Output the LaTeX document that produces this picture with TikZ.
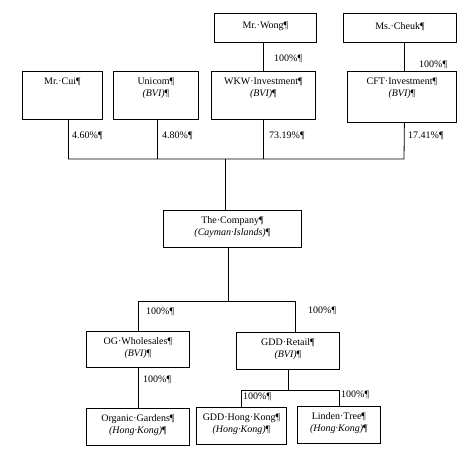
\documentclass[tikz,border=0pt]{standalone}
\usepackage{fontspec}
\setmainfont{Liberation Serif}
\usetikzlibrary{calc}
\begin{document}
\begin{tikzpicture}[x=1pt,y=-1pt,
  box/.style={draw, line width=0.8pt, rectangle, inner sep=0pt, anchor=north west},
  txt/.style={font=\fontsize{10}{12}\selectfont, align=center, inner sep=0pt, anchor=north},
  pct/.style={font=\fontsize{10}{12}\selectfont, inner sep=0pt, anchor=west},
  ln/.style={line width=0.8pt}]
\useasboundingbox (0,0) rectangle (470,459);
% boxes
\node[box, minimum width=102pt, minimum height=29pt] (wong) at (214,13) {};
\node[box, minimum width=113pt, minimum height=29pt] (cheuk) at (343,13) {};
\node[box, minimum width=80pt, minimum height=48pt] (cui) at (22,71) {};
\node[box, minimum width=85pt, minimum height=48pt] (unicom) at (113,71) {};
\node[box, minimum width=104pt, minimum height=48pt] (wkw) at (211,71) {};
\node[box, minimum width=109pt, minimum height=51pt] (cft) at (347,71) {};
\node[box, minimum width=138pt, minimum height=37pt] (company) at (163,210) {};
\node[box, minimum width=103pt, minimum height=36pt] (og) at (86,331) {};
\node[box, minimum width=103pt, minimum height=37pt] (retail) at (236,332) {};
\node[box, minimum width=103pt, minimum height=37pt] (organic) at (86,408) {};
\node[box, minimum width=90pt, minimum height=37pt] (gddhk) at (196,407) {};
\node[box, minimum width=83pt, minimum height=37pt] (linden) at (297,406) {};
% texts
\node[txt] (twong) at ([yshift=-9pt]wong.north) {Mr.·Wong¶};
\node[txt] (tcheuk) at ([yshift=-9pt]cheuk.north) {Ms.·Cheuk¶};
\node[txt] (tcui) at ([yshift=-6.5pt]cui.north) {Mr.·Cui¶};
\node[txt] (tunicom) at ([yshift=-6.5pt]unicom.north) {Unicom¶\\\textit{(BVI)}¶};
\node[txt] (twkw) at ([yshift=-6.5pt]wkw.north) {WKW·Investment¶\\\textit{(BVI)}¶};
\node[txt] (tcft) at ([yshift=-6.5pt]cft.north) {CFT·Investment¶\\\textit{(BVI)}¶};
\node[txt] (tcompany) at ([yshift=-6.5pt]company.north) {The·Company¶\\\textit{(Cayman·Islands)}¶};
\node[txt] (tog) at ([yshift=-6.5pt]og.north) {OG·Wholesales¶\\\textit{(BVI)}¶};
\node[txt] (tretail) at ([yshift=-6.5pt]retail.north) {GDD·Retail¶\\\textit{(BVI)}¶};
\node[txt] (torganic) at ([yshift=-6.5pt]organic.north) {Organic·Gardens¶\\\textit{(Hong·Kong)}¶};
\node[txt] (tgddhk) at ([yshift=-6.5pt]gddhk.north) {GDD·Hong·Kong¶\\\textit{(Hong·Kong)}¶};
\node[txt] (tlinden) at ([yshift=-6.5pt]linden.north) {Linden·Tree¶\\\textit{(Hong·Kong)}¶};
% connectors
\coordinate (busA) at (68,159);
\coordinate (busB) at (404,159);
\coordinate (busC) at (0,301);
\coordinate (busD) at (0,390);
\draw[ln] (wkw.north) -- (wkw.north |- wong.south);
\draw[ln] ([xshift=2.5pt]cft.north) -- ([xshift=2.5pt]cft.north |- cheuk.south);
\draw[ln] ([xshift=6pt]cui.south) -- ([xshift=6pt]cui.south |- busA) -- (busB) -- ([xshift=2.5pt]cft.south);
\draw[ln] ([xshift=1.5pt]unicom.south) -- ([xshift=1.5pt]unicom.south |- busA);
\draw[ln] (wkw.south) -- (wkw.south |- busA);
\draw[ln] ([xshift=-7pt]company.north |- busA) -- ([xshift=-7pt]company.north);
\draw[ln] ([xshift=-4pt]company.south) -- ([xshift=-4pt]company.south |- busC);
\draw[ln] (og.north) -- (og.north |- busC) -- ([xshift=7.5pt]retail.north |- busC) -- ([xshift=7.5pt]retail.north);
\draw[ln] (og.south) -- (organic.north);
\draw[ln] (retail.south) -- (retail.south |- busD);
\draw[ln] (gddhk.north) -- (gddhk.north |- busD) -- (linden.north |- busD) -- (linden.north);
% percentages
\node[pct] (p1) at (274,59) {100\%¶};
\node[pct] (p2) at (419,65) {100\%¶};
\node[pct] (p3) at (72,136) {4.60\%¶};
\node[pct] (p4) at (162,136) {4.80\%¶};
\node[pct] (p5) at (269,136) {73.19\%¶};
\node[pct] (p6) at (408,136) {17.41\%¶};
\node[pct] (p7) at (146,312) {100\%¶};
\node[pct] (p8) at (308,311) {100\%¶};
\node[pct] (p9) at (143,380) {100\%¶};
\node[pct] (p10) at (243,397) {100\%¶};
\node[pct] (p11) at (341,395) {100\%¶};
\end{tikzpicture}
\end{document}
